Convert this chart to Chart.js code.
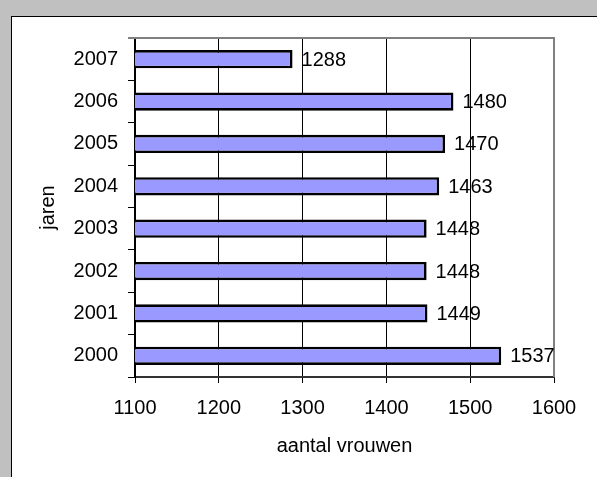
<!DOCTYPE html>
<html>
<head>
<meta charset="utf-8">
<script src="https://cdn.jsdelivr.net/npm/chart.js@4/dist/chart.umd.min.js"></script>
<style>
  html, body { margin: 0; padding: 0; }
  body { width: 597px; height: 477px; background: #c0c0c0; position: relative; overflow: hidden; }
  #frame { position: absolute; left: 11px; top: 16px; width: 586px; height: 461px; background: #ffffff; border-left: 1px solid #000; border-top: 1px solid #000; }
  #wrap { position: absolute; left: 0; top: 0; width: 597px; height: 477px; }
</style>
</head>
<body>
<div id="frame"></div>
<div id="wrap"><canvas id="c" width="597" height="477"></canvas></div>
<script>
const years = ['2007', '2006', '2005', '2004', '2003', '2002', '2001', '2000'];
const women = [1288, 1480, 1470, 1463, 1448, 1448, 1449, 1537];
const xMin = 1100;
const xMax = 1600;
const xStep = 100;
const xTitle = 'aantal vrouwen';
const yTitle = 'jaren';

const FONT = '"Liberation Sans", Arial, sans-serif';

const valueLabels = {
  id: 'valueLabels',
  afterDatasetsDraw(chart) {
    const ctx = chart.ctx;
    const meta = chart.getDatasetMeta(0);
    ctx.save();
    ctx.font = '20px ' + FONT;
    ctx.fillStyle = '#000';
    ctx.textAlign = 'left';
    ctx.textBaseline = 'middle';
    meta.data.forEach((bar, i) => {
      ctx.fillText(String(chart.data.datasets[0].data[i]), bar.x + 9, bar.y + 1);
    });
    ctx.restore();
  }
};

const plotFrame = {
  id: 'plotFrame',
  beforeDatasetsDraw(chart) {
    const {ctx, chartArea: a} = chart;
    ctx.save();
    ctx.strokeStyle = '#808080';
    ctx.lineWidth = 2;
    ctx.beginPath();
    ctx.moveTo(a.left - 7, a.top);
    ctx.lineTo(a.right, a.top);
    ctx.lineTo(a.right, a.bottom);
    ctx.stroke();
    ctx.restore();
  }
};

new Chart(document.getElementById('c'), {
  type: 'bar',
  data: {
    labels: years,
    datasets: [{
      data: women,
      backgroundColor: '#9999ff',
      borderColor: '#000000',
      borderWidth: 2.6,
      borderSkipped: false,
      barPercentage: 0.43,
      categoryPercentage: 1
    }]
  },
  plugins: [plotFrame, valueLabels],
  options: {
    indexAxis: 'y',
    responsive: false,
    animation: false,
    devicePixelRatio: 1,
    layout: { padding: { left: 0, top: 38, right: 43, bottom: 0 } },
    plugins: { legend: { display: false }, tooltip: { enabled: false } },
    scales: {
      x: {
        min: xMin,
        max: xMax,
        afterFit(scale) { scale.height = 100; },
        ticks: { stepSize: xStep, color: '#000', font: { family: FONT, size: 20 }, padding: 13, maxRotation: 0,
                 callback: (v) => String(v) },
        grid: {
          color: (c) => (c.tick && c.tick.value === xMax) ? '#808080' : '#000',
          lineWidth: 1,
          tickLength: 6,
          tickColor: '#000'
        },
        border: { display: true, color: '#333', width: 2 },
        title: { display: true, text: xTitle, color: '#000', font: { family: FONT, size: 20 }, padding: { top: 0, bottom: 19 } }
      },
      y: {
        afterFit(scale) { scale.width = 135; },
        ticks: { color: '#000', font: { family: FONT, size: 20 }, padding: 10 },
        grid: { drawOnChartArea: false, drawTicks: true, tickLength: 7, color: '#000', offset: true },
        border: { display: true, color: '#000', width: 2 },
        title: { display: true, text: yTitle, color: '#000', font: { family: FONT, size: 20 }, padding: { top: 36, bottom: 0 } }
      }
    }
  }
});
</script>
</body>
</html>
